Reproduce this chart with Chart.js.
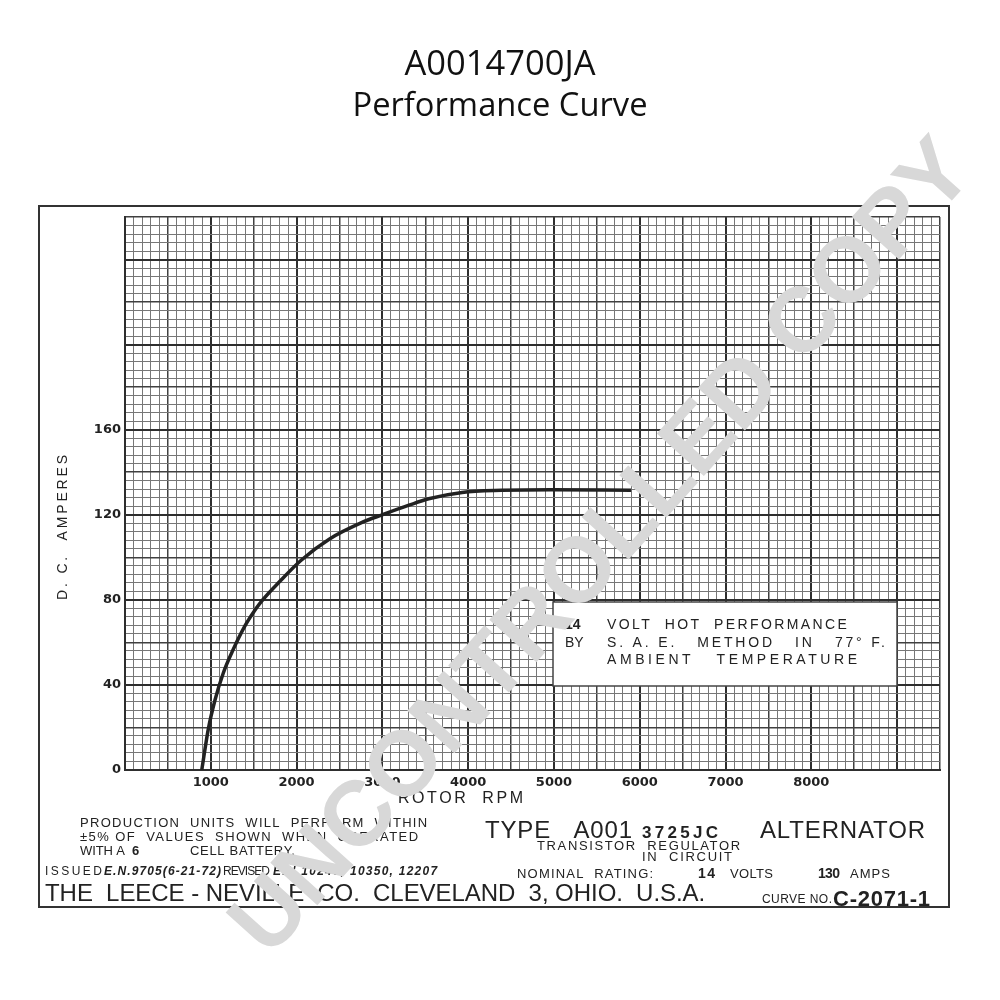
<!DOCTYPE html>
<html>
<head>
<meta charset="utf-8">
<script src="https://cdn.jsdelivr.net/npm/chart.js@4.4.1/dist/chart.umd.min.js"></script>
<style>
  html, body { margin: 0; padding: 0; background: #fff; }
  canvas { display: block; }
</style>
</head>
<body>
<canvas id="perfChart" width="1000" height="1000"></canvas>
<script>
// curve (rotor rpm vs d.c. amperes)
const rotorRpm = [895, 970, 1050, 1145, 1260, 1395, 1530, 1605, 1800, 2050, 2380, 2770, 3000, 3310, 3540, 3930, 4390, 4970, 5900];
const dcAmps   = [0, 19, 33, 45.5, 56.5, 67.5, 76, 80, 88.5, 98.5, 108.5, 116.5, 120, 124.5, 127.5, 130.5, 131.5, 131.8, 131.5];

// axis labels printed on the graph paper
const rpmLabels = [1000, 2000, 3000, 4000, 5000, 6000, 7000, 8000];
const ampLabels = [0, 40, 80, 120, 160];

const FONT = '"Liberation Sans", Arial, sans-serif';

// draws text stretched to a given width with letter spacing
function spaced(c, txt, x, y, font, width) {
    c.font = font;
    c.letterSpacing = '0px';
    c.textAlign = 'left';
    if (width) {
        const w = c.measureText(txt).width;
        const ls = (width - w) / Math.max(1, txt.length - 1);
        c.letterSpacing = ls.toFixed(2) + 'px';
    }
    c.fillText(txt, x, y);
    c.letterSpacing = '0px';
}

function fitFont(c, txt, family, weight, target) {
    c.font = weight + ' 100px ' + family;
    const w = c.measureText(txt).width;
    return weight + ' ' + (100 * target / w).toFixed(1) + 'px ' + family;
}

const sheetPlugin = {
    id: 'sheet',
    beforeDraw(chart) {
        const c = chart.ctx;
        c.save();
        c.fillStyle = '#fff';
        c.fillRect(0, 0, chart.width, chart.height);
        c.restore();
    },
    afterDatasetsDraw(chart) {
        // note box on the grid
        const c = chart.ctx;
        c.save();
        c.fillStyle = '#fff';
        c.fillRect(553, 602, 344, 84);
        c.strokeStyle = '#444';
        c.lineWidth = 1.5;
        c.strokeRect(553, 602, 344, 84);
        c.fillStyle = '#222';
        c.textBaseline = 'alphabetic';
        const f = '14px ' + FONT;
        spaced(c, '14', 565, 629, 'bold ' + f, 0);
        spaced(c, 'VOLT  HOT  PERFORMANCE', 607, 629, f, 240);
        spaced(c, 'BY', 565, 647, f, 0);
        spaced(c, 'S. A. E.   METHOD   IN   77° F.', 607, 647, f, 278);
        spaced(c, 'AMBIENT   TEMPERATURE', 607, 664, f, 250);
        c.restore();
    },
    afterDraw(chart) {
        const c = chart.ctx;
        c.save();

        // title
        c.fillStyle = '#111';
        c.textAlign = 'center';
        c.textBaseline = 'middle';
        c.font = fitFont(c, 'A0014700JA', '"Open Sans", sans-serif', 'normal', 191);
        c.fillText('A0014700JA', 500, 65);
        c.font = fitFont(c, 'Performance Curve', '"Open Sans", sans-serif', 'normal', 295);
        c.fillText('Performance Curve', 500, 107);

        // sheet frame
        c.strokeStyle = '#333';
        c.lineWidth = 2;
        c.strokeRect(39, 206, 910, 701);

        c.fillStyle = '#222';
        c.textBaseline = 'alphabetic';

        // axis titles
        spaced(c, 'ROTOR  RPM', 398, 803, '16px ' + FONT, 125);
        c.save();
        c.translate(67, 600);
        c.rotate(-Math.PI / 2);
        spaced(c, 'D. C.  AMPERES', 0, 0, '14px ' + FONT, 145);
        c.restore();

        // left block
        const s = '13px ' + FONT;
        spaced(c, 'PRODUCTION  UNITS  WILL  PERFORM  WITHIN', 80, 827, s, 347);
        spaced(c, '±5% OF  VALUES  SHOWN  WHEN  OPERATED', 80, 841, s, 338);
        spaced(c, 'WITH A', 80, 855, s, 45);
        spaced(c, '6', 132, 855, 'bold 13px ' + FONT, 0);
        spaced(c, 'CELL BATTERY.', 190, 855, s, 105);
        spaced(c, 'ISSUED', 45, 875, '12px ' + FONT, 57);
        spaced(c, 'E.N.9705(6-21-72)', 104, 875, 'italic bold 12px ' + FONT, 117);
        spaced(c, 'REVISED', 223, 875, '12px ' + FONT, 47);
        spaced(c, 'E.N.10240, 10350, 12207', 273, 875, 'italic bold 12px ' + FONT, 164);
        spaced(c, 'THE  LEECE - NEVILLE  CO.  CLEVELAND  3, OHIO.  U.S.A.', 45, 901, '24px ' + FONT, 660);

        // right block
        spaced(c, 'TYPE   A001', 485, 838, '24px ' + FONT, 147);
        spaced(c, '3725JC', 642, 838, 'bold 17px ' + FONT, 76);
        spaced(c, 'ALTERNATOR', 760, 838, '24px ' + FONT, 165);
        spaced(c, 'TRANSISTOR  REGULATOR', 537, 850, s, 203);
        spaced(c, 'IN  CIRCUIT', 642, 861, s, 90);
        spaced(c, 'NOMINAL  RATING:', 517, 878, s, 136);
        spaced(c, '14', 698, 878, 'bold 14px ' + FONT, 17);
        spaced(c, 'VOLTS', 730, 878, s, 43);
        spaced(c, '130', 818, 878, 'bold 14px ' + FONT, 22);
        spaced(c, 'AMPS', 850, 878, s, 40);
        spaced(c, 'CURVE NO.', 762, 903, '12px ' + FONT, 70);
        spaced(c, 'C-2071-1', 833, 906, 'bold 22px ' + FONT, 97);

        // watermark
        c.translate(604, 549);
        c.rotate(-48 * Math.PI / 180);
        c.fillStyle = '#d8d8d8';
        c.textAlign = 'center';
        c.textBaseline = 'middle';
        c.font = 'bold 92px ' + FONT;
        c.fillText('UNCONTROLLED COPY', 0, 0);
        c.restore();
    }
};

function gridStyle(major, mid) {
    return {
        color: (ctx) => {
            const v = ctx.tick.value;
            if (v % major === 0) return '#2e2e2e';
            if (v % mid === 0) return '#404040';
            return '#777';
        },
        lineWidth: (ctx) => {
            const v = ctx.tick.value;
            if (v % major === 0) return 2;
            if (v % mid === 0) return 1.5;
            return 1;
        },
        drawTicks: false
    };
}

const ctx = document.getElementById('perfChart').getContext('2d');
new Chart(ctx, {
    type: 'line',
    data: {
        datasets: [{
            label: 'D.C. Amperes',
            data: rotorRpm.map((r, i) => ({ x: r, y: dcAmps[i] })),
            borderColor: '#222',
            borderWidth: 3.5,
            pointRadius: 0,
            cubicInterpolationMode: 'monotone',
            fill: false
        }]
    },
    options: {
        responsive: false,
        animation: false,
        layout: { padding: { left: 0, top: 217, right: 60, bottom: 0 } },
        plugins: {
            legend: { display: false },
            tooltip: { enabled: false }
        },
        scales: {
            x: {
                type: 'linear',
                min: 0,
                max: 9500,
                afterFit: (scale) => { scale.height = 230; },
                grid: gridStyle(1000, 500),
                border: { display: true, color: '#2e2e2e', width: 2 },
                ticks: {
                    stepSize: 100,
                    autoSkip: false,
                    maxRotation: 0,
                    minRotation: 0,
                    padding: 5,
                    color: '#222',
                    font: { family: '"DejaVu Sans", sans-serif', weight: 'bold', size: 13 },
                    callback: (v) => rpmLabels.includes(v) ? String(v) : ''
                }
            },
            y: {
                type: 'linear',
                min: 0,
                max: 260,
                afterFit: (scale) => { scale.width = 125; },
                grid: gridStyle(40, 20),
                border: { display: true, color: '#2e2e2e', width: 2 },
                ticks: {
                    stepSize: 4,
                    autoSkip: false,
                    padding: 4,
                    color: '#222',
                    font: { family: '"DejaVu Sans", sans-serif', weight: 'bold', size: 13 },
                    callback: (v) => ampLabels.includes(v) ? String(v) : ''
                }
            }
        }
    },
    plugins: [sheetPlugin]
});
</script>
</body>
</html>
